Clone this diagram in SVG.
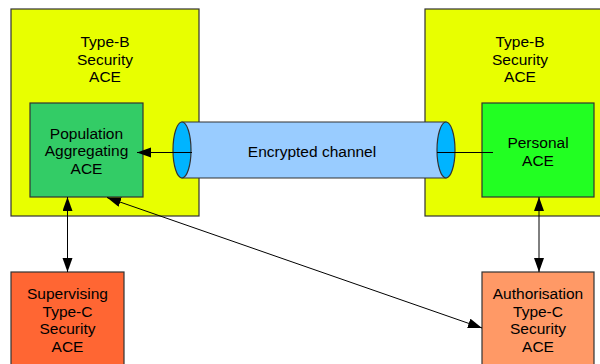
<svg xmlns="http://www.w3.org/2000/svg" width="600" height="364" viewBox="0 0 600 364">
<defs>
<style>
text{font-family:"Liberation Sans",Arial,sans-serif;font-size:15.5px;fill:#000;text-anchor:middle}
.box{stroke:#333;stroke-width:1.2}
.c{stroke:#000;stroke-width:1;fill:none}
</style>
<marker id="ah" markerUnits="userSpaceOnUse" markerWidth="15" markerHeight="11" refX="14" refY="5" orient="auto-start-reverse">
<path d="M0,0 L14,5 L0,10 z" fill="#000"/>
</marker>
</defs>
<rect width="600" height="364" fill="#fff"/>
<g id="typeB-left">
<rect class="box" x="11" y="9" width="188" height="207" fill="#E8FF00"/>
<text x="105" y="47">Type-B</text>
<text x="105" y="64.5">Security</text>
<text x="105" y="82">ACE</text>
</g>
<g id="typeB-right">
<rect class="box" x="425" y="9" width="190" height="207" fill="#E8FF00"/>
<text x="520" y="47">Type-B</text>
<text x="520" y="64.5">Security</text>
<text x="520" y="82">ACE</text>
</g>
<g id="population">
<rect class="box" x="30" y="103" width="113" height="94" fill="#33CC66"/>
<text x="86.5" y="138.5">Population</text>
<text x="86.5" y="156">Aggregating</text>
<text x="86.5" y="174">ACE</text>
</g>
<g id="personal">
<rect class="box" x="482" y="103" width="112" height="94" fill="#22FF22"/>
<text x="538" y="148">Personal</text>
<text x="538" y="165.5">ACE</text>
</g>
<g id="channel">
<path class="box" d="M182,122 L446,122 L446,178 L182,178 Z" fill="#99CCFF"/>
<ellipse class="box" cx="182" cy="150" rx="9" ry="28" fill="#00B4FF"/>
<ellipse class="box" cx="446" cy="150" rx="9" ry="28" fill="#00B4FF"/>
<text x="312" y="157">Encrypted channel</text>
</g>
<g id="supervising">
<rect class="box" x="11" y="272" width="113" height="100" fill="#FF6633"/>
<text x="67.5" y="299">Supervising</text>
<text x="67.5" y="316.5">Type-C</text>
<text x="67.5" y="334">Security</text>
<text x="67.5" y="352">ACE</text>
</g>
<g id="authorisation">
<rect class="box" x="482" y="272" width="112" height="100" fill="#FF9966"/>
<text x="538" y="299">Authorisation</text>
<text x="538" y="316.5">Type-C</text>
<text x="538" y="334">Security</text>
<text x="538" y="352">ACE</text>
</g>
<g id="connectors">
<line class="c" x1="192" y1="152.5" x2="137" y2="152.5" marker-end="url(#ah)"/>
<line class="c" x1="437" y1="152.5" x2="493" y2="152.5"/>
<line class="c" x1="67.5" y1="197" x2="67.5" y2="272" marker-start="url(#ah)" marker-end="url(#ah)"/>
<line class="c" x1="539" y1="197" x2="539" y2="272" marker-start="url(#ah)" marker-end="url(#ah)"/>
<line class="c" x1="107" y1="197.5" x2="482" y2="328" marker-start="url(#ah)" marker-end="url(#ah)"/>
</g>
</svg>
